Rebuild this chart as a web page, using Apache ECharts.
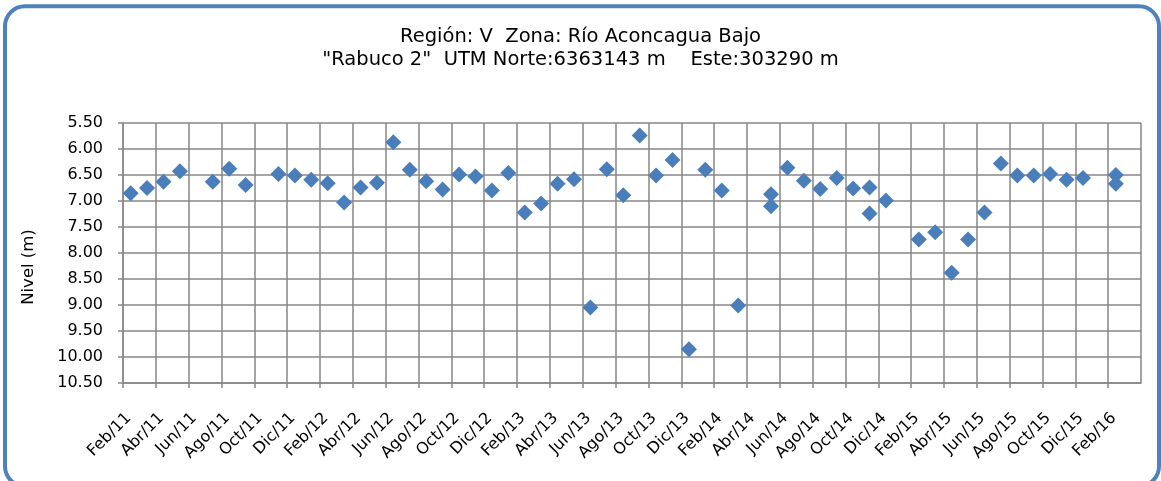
<!DOCTYPE html>
<html>
<head>
<meta charset="utf-8">
<script src="https://cdn.jsdelivr.net/npm/echarts@6/dist/echarts.min.js"></script>
<style>
  html, body { margin: 0; padding: 0; background: #fff; }
  #chart { width: 1161px; height: 481px; }
</style>
</head>
<body>
<div id="chart"></div>
<script>
// fechas de medición (día 15 de cada mes aprox.)
const fechas = [
  "2011-02-15", "2011-03-15", "2011-04-15", "2011-05-15", "2011-07-15", "2011-08-15", "2011-09-15",
  "2011-11-15", "2011-12-15", "2012-01-15", "2012-02-15", "2012-03-15", "2012-04-15", "2012-05-15",
  "2012-06-15", "2012-07-15", "2012-08-15", "2012-09-15", "2012-10-15", "2012-11-15", "2012-12-15",
  "2013-01-15", "2013-02-15", "2013-03-15", "2013-04-15", "2013-05-15", "2013-06-15", "2013-07-15",
  "2013-08-15", "2013-09-15", "2013-10-15", "2013-11-15", "2013-12-15", "2014-01-15", "2014-02-15",
  "2014-03-15", "2014-05-15", "2014-05-15", "2014-06-15", "2014-07-15", "2014-08-15", "2014-09-15",
  "2014-10-15", "2014-11-15", "2014-11-15", "2014-12-15", "2015-02-15", "2015-03-15", "2015-04-15",
  "2015-05-15", "2015-06-15", "2015-07-15", "2015-08-15", "2015-09-15", "2015-10-15", "2015-11-15",
  "2015-12-15", "2016-02-15", "2016-02-15"
];
// nivel estático (m)
const niveles = [
  6.85, 6.75, 6.63, 6.43, 6.63, 6.38, 6.69,
  6.48, 6.51, 6.59, 6.66, 7.03, 6.74, 6.65,
  5.87, 6.40, 6.62, 6.78, 6.49, 6.53, 6.80,
  6.46, 7.22, 7.05, 6.67, 6.58, 9.05, 6.39,
  6.89, 5.74, 6.51, 6.21, 9.85, 6.40, 6.80,
  9.01, 6.87, 7.10, 6.36, 6.61, 6.77, 6.56,
  6.76, 6.74, 7.24, 6.99, 7.74, 7.60, 8.38,
  7.74, 7.22, 6.28, 6.51, 6.51, 6.48, 6.59,
  6.56, 6.50, 6.67
];
const meses = ["Ene", "Feb", "Mar", "Abr", "May", "Jun", "Jul", "Ago", "Sep", "Oct", "Nov", "Dic"];
const yTicks = [5.5, 6, 6.5, 7, 7.5, 8, 8.5, 9, 9.5, 10, 10.5];

// eje x en meses desde Feb/2011
const inicio = { anio: 2011, mes: 2 };
function aMes(fecha) {
  const p = fecha.split("-").map(Number);
  return (p[0] - inicio.anio) * 12 + (p[1] - inicio.mes) + (p[2] - 1) / 30;
}
function etiquetaMes(v) {
  const total = inicio.mes - 1 + Math.round(v);
  const anio = inicio.anio + Math.floor(total / 12);
  return meses[total % 12] + "/" + String(anio).slice(2);
}

const puntos = fechas.map((f, i) => [aMes(f), niveles[i]]);

const chart = echarts.init(document.getElementById("chart"));
const gris = "#878787";
const option = {
  animation: false,
  title: {
    text: "Región: V  Zona: Río Aconcagua Bajo\n\"Rabuco 2\"  UTM Norte:6363143 m    Este:303290 m",
    left: "center",
    top: 20,
    textStyle: {
      fontFamily: "DejaVu Sans",
      fontSize: 19.5,
      fontWeight: "normal",
      color: "#000",
      lineHeight: 23,
    },
  },
  graphic: [
    {
      type: "rect",
      shape: { x: 5, y: 6.3, width: 1154, height: 480, r: 20 },
      style: { fill: null, stroke: "#4f81bd", lineWidth: 4 },
      silent: true,
    },
  ],
  grid: { left: 123, right: 20, top: 123, bottom: 98 },
  xAxis: {
    type: "value",
    min: 0,
    max: 62,
    interval: 2,
    axisLine: { show: true, onZero: false, lineStyle: { color: gris, width: 1.5 } },
    axisTick: { show: true, length: 5, lineStyle: { color: gris, width: 1.5 } },
    splitLine: { show: true, lineStyle: { color: gris, width: 1.5 } },
    axisLabel: {
      rotate: 45,
      margin: 27,
      verticalAlign: "top",
      color: "#000",
      fontFamily: "DejaVu Sans",
      fontSize: 16,
      showMaxLabel: false,
      formatter: function (v) {
        return etiquetaMes(v);
      },
    },
  },
  yAxis: {
    type: "value",
    inverse: true,
    min: yTicks[0],
    max: yTicks[yTicks.length - 1],
    interval: 0.5,
    name: "Nivel (m)",
    nameLocation: "middle",
    nameGap: 86,
    nameRotate: 90,
    nameTextStyle: {
      fontFamily: "DejaVu Sans",
      fontSize: 16.5,
      color: "#000",
      padding: [0, 28, 0, 0],
    },
    axisLine: { show: true, lineStyle: { color: gris, width: 1.5 } },
    axisTick: { show: true, length: 5, lineStyle: { color: gris, width: 1.5 } },
    splitLine: { show: true, lineStyle: { color: gris, width: 1.5 } },
    axisLabel: {
      margin: 20,
      color: "#000",
      fontFamily: "DejaVu Sans",
      fontSize: 16,
      formatter: function (v) {
        return v.toFixed(2);
      },
    },
  },
  series: [
    {
      type: "scatter",
      symbol: "diamond",
      symbolSize: [16, 16],
      itemStyle: { color: "#4a7ebb", opacity: 1 },
      data: puntos,
    },
  ],
};
chart.setOption(option);
window.addEventListener("resize", () => {
  chart.resize();
});
</script>
</body>
</html>
